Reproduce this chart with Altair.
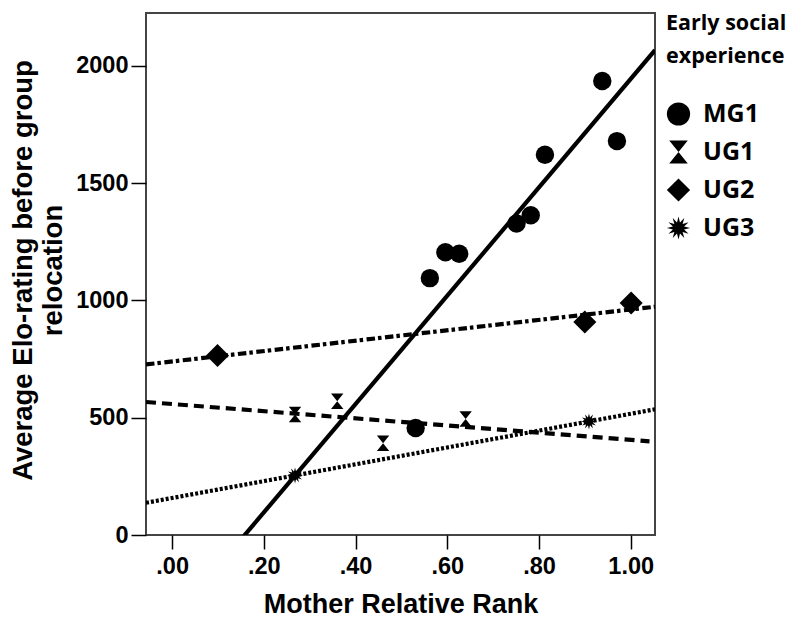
import math
import altair as alt
import pandas as pd

# ---- data ----
groups = ["MG1", "UG1", "UG2", "UG3"]
mg1_x = [0.531, 0.562, 0.596, 0.626, 0.751, 0.782, 0.813, 0.938, 0.970]
mg1_y = [456, 1095, 1205, 1199, 1328, 1363, 1621, 1935, 1679]
ug1_x = [0.268, 0.360, 0.460, 0.640]
ug1_y = [514, 570, 391, 494]
ug2_x = [0.099, 0.900, 1.001]
ug2_y = [765, 908, 989]
ug3_x = [0.268, 0.909]
ug3_y = [254, 484]
x_ticks = [0.0, 0.2, 0.4, 0.6, 0.8, 1.0]
y_ticks = [0, 500, 1000, 1500, 2000]

rows = []
for g, xs, ys in [("MG1", mg1_x, mg1_y), ("UG1", ug1_x, ug1_y),
                  ("UG2", ug2_x, ug2_y), ("UG3", ug3_x, ug3_y)]:
    for a, b in zip(xs, ys):
        rows.append({"group": g, "x": a, "y": b})
df = pd.DataFrame(rows)

# ---- styling ----
XMIN, XMAX = -0.057, 1.053
YMIN, YMAX = 0, 2225

hourglass = "M-0.8,-1L0.8,-1L-0.8,1L0.8,1Z"
pts = []
n = 12
for i in range(2 * n):
    r = 1.0 if i % 2 == 0 else 0.5
    ang = math.pi * i / n - math.pi / 2
    pts.append(f"{r*math.cos(ang):.3f},{r*math.sin(ang):.3f}")
star = "M" + "L".join(pts) + "Z"

xscale = alt.Scale(domain=[XMIN, XMAX], nice=False, zero=False)
yscale = alt.Scale(domain=[YMIN, YMAX], nice=False, zero=False)

AX_FONT = "Liberation Sans"
xaxis = alt.Axis(
    values=x_ticks,
    labelExpr="datum.value >= 1 ? format(datum.value, '.2f') : '.' + substring(format(datum.value, '.2f'), 2)",
    title="Mother Relative Rank", grid=False, domain=False,
    tickSize=14, tickColor="black", tickWidth=1.5,
    labelFont=AX_FONT, labelFontWeight="bold", labelFontSize=23.5, labelColor="black",
    labelPadding=5, labelOverlap=False, labelFlush=False,
    titleFont=AX_FONT, titleFontWeight="bold", titleFontSize=27, titleColor="black",
    titleY=77, titleBaseline="alphabetic",
)
yaxis = alt.Axis(
    values=y_ticks, format="d",
    title=["Average Elo-rating before group", "relocation"], grid=False, domain=False,
    tickSize=15, tickColor="black", tickWidth=1.5,
    labelFont=AX_FONT, labelFontWeight="bold", labelFontSize=23.5, labelColor="black",
    labelPadding=3, labelOverlap=False, labelFlush=False,
    titleFont=AX_FONT, titleFontWeight="bold", titleFontSize=27.5, titleColor="black",
    titleX=-114.5, titleY=257, titleBaseline="alphabetic", titleAngle=270,
    titleAlign="center", titleLineHeight=30,
)

X = alt.X("x:Q", scale=xscale, axis=xaxis)
Y = alt.Y("y:Q", scale=yscale, axis=yaxis)

def fit(g, extent, dash=None):
    kw = dict(clip=True, color="black", strokeWidth=4.2, strokeCap="butt")
    if dash is not None:
        kw["strokeDash"] = dash
    return (alt.Chart(df)
            .transform_filter(alt.datum.group == g)
            .transform_regression("x", "y", extent=extent)
            .mark_line(**kw)
            .encode(x=X, y=Y))

lines = [
    fit("MG1", [XMIN, XMAX]),
    fit("UG1", [XMIN, 1.041], [10, 6]),
    fit("UG2", [XMIN, XMAX], [8.5, 3, 3.5, 3.5]),
    fit("UG3", [XMIN, XMAX], [3, 2]),
]

legend = alt.Legend(
    title=["Early social", "experience"], orient="none", legendX=520, legendY=0,
    titleFont="Open Sans", titleFontSize=21.5, titleFontWeight="bold", titleColor="black",
    titleLineHeight=33, titlePadding=34, titleAlign="left",
    labelFont="Open Sans", labelFontSize=25, labelFontWeight="bold", labelColor="black",
    labelOffset=12, rowPadding=12, padding=0,
    symbolSize=540, symbolFillColor="black", symbolStrokeWidth=0, symbolOpacity=1,
)
shape_scale = alt.Scale(domain=groups, range=["circle", hourglass, "diamond", star])
sizes = {"MG1": 340, "UG1": 240, "UG2": 530, "UG3": 256}

point_layers = []
for g in groups:
    point_layers.append(
        alt.Chart(df)
        .transform_filter(alt.datum.group == g)
        .mark_point(filled=True, color="black", opacity=1, size=sizes[g])
        .encode(x=X, y=Y, shape=alt.Shape("group:N", scale=shape_scale, legend=legend))
    )

chart = (alt.layer(*lines, *point_layers)
         .properties(width=509, height=522,
                     autosize=alt.AutoSizeParams(type="none"),
                     padding={"left": 138, "top": 5, "right": 137, "bottom": 82})
         .configure_view(stroke="#444444", strokeWidth=2))

chart.save("out.html", embed_options={"renderer": "svg", "actions": False})
